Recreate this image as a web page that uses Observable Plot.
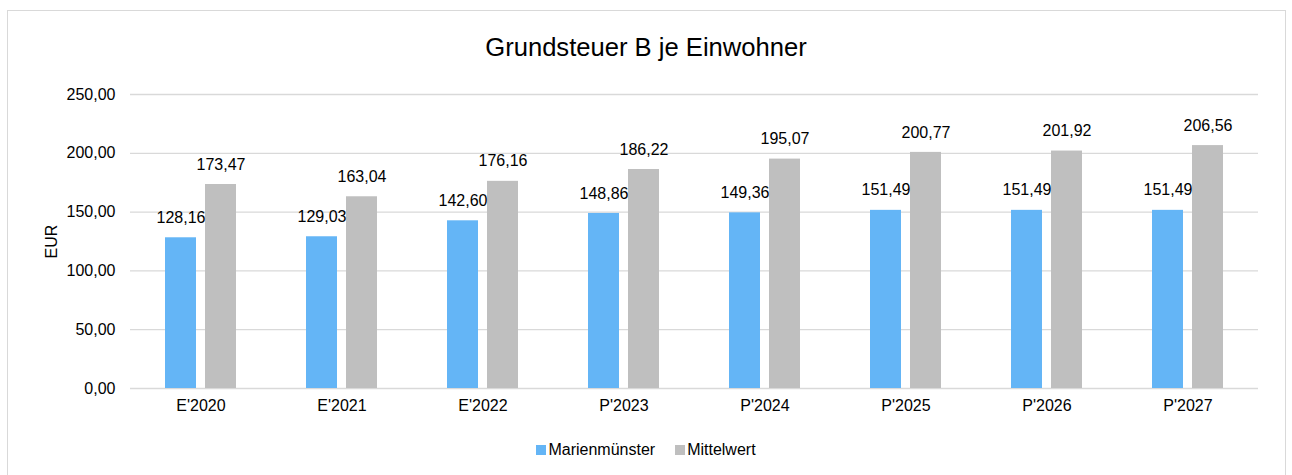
<!DOCTYPE html>
<html><head><meta charset="utf-8">
<script src="https://cdn.jsdelivr.net/npm/d3@7"></script>
<script src="https://cdn.jsdelivr.net/npm/@observablehq/plot@0.6"></script>
<style>
body{margin:0;background:#fff;font-family:"Liberation Sans",Arial,sans-serif;color:#000;}
#frame{position:absolute;left:7px;top:10px;width:1279px;height:480px;border:1.5px solid #d9d9d9;box-sizing:border-box;}
#title{position:absolute;left:0;top:32px;width:1292px;text-align:center;font-size:25.6px;line-height:30px;}
#chart{position:absolute;left:0;top:70px;}
#legend{position:absolute;top:440px;left:0;width:1292px;display:flex;justify-content:center;align-items:center;font-size:16px;line-height:20px;}
.item{display:flex;align-items:center;margin:0 10px;}
.sw{width:10px;height:10px;margin-right:2px;}
</style>
</head><body>
<div id="frame"></div>
<div id="title">Grundsteuer B je Einwohner</div>
<div id="chart"></div>
<div id="legend"></div>
<script>
const categories = ["E'2020","E'2021","E'2022","P'2023","P'2024","P'2025","P'2026","P'2027"];
const seriesNames = ["Marienmünster","Mittelwert"];
const marienmuenster = [128.16,129.03,142.60,148.86,149.36,151.49,151.49,151.49];
const mittelwert = [173.47,163.04,176.16,186.22,195.07,200.77,201.92,206.56];
const yTicks = [0,50,100,150,200,250];
const colors = ["#64b5f6","#bfbfbf"];

const fmt = v => d3.format(".2f")(v).replace(".", ",");
const rows = [];
categories.forEach((c,i) => {
  rows.push({category:c, series:seriesNames[0], value:marienmuenster[i]});
  rows.push({category:c, series:seriesNames[1], value:mittelwert[i]});
});

const chart = Plot.plot({
  width: 1292, height: 360,
  marginLeft: 126, marginRight: 31, marginTop: 24, marginBottom: 42,
  style: {fontFamily: '"Liberation Sans", Arial, sans-serif', fontSize: "16px", color: "#000", background: "transparent"},
  facet: {data: rows, x: "category"},
  fx: {domain: categories, paddingInner: 0, paddingOuter: 0, padding: 0, axis: "bottom", label: null, tickSize: 0, tickPadding: 11},
  x: {domain: seriesNames, paddingInner: 0.22, paddingOuter: 0.85, axis: null},
  y: {domain: [0,250], ticks: yTicks, tickFormat: fmt, tickSize: 0, tickPadding: 15, label: "EUR", labelAnchor: "center", labelOffset: 85, labelArrow: false},
  color: {domain: seriesNames, range: colors},
  marks: [
    Plot.ruleY(yTicks, {y: d => d, stroke: "#d9d9d9", strokeWidth: 1.3}),
    Plot.barY(rows, {x: "series", y: "value", fill: "series"}),
    Plot.text(rows, {x: "series", y: "value", text: d => fmt(d.value), dy: -20, fontSize: 16, fill: "#000"})
  ]
});
document.getElementById("chart").appendChild(chart);

const legend = document.getElementById("legend");
seriesNames.forEach((s,i) => {
  const it = document.createElement("div"); it.className = "item";
  const sw = document.createElement("div"); sw.className = "sw"; sw.style.background = colors[i];
  const t = document.createElement("span"); t.textContent = s;
  it.appendChild(sw); it.appendChild(t); legend.appendChild(it);
});
</script>
</body></html>
